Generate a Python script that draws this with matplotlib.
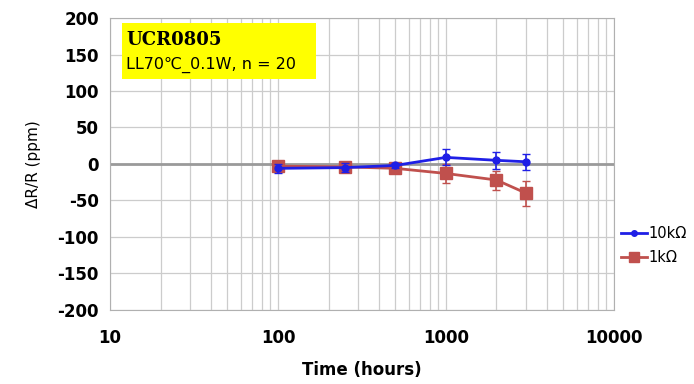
import matplotlib
matplotlib.use("Agg")
import matplotlib.pyplot as plt
from matplotlib.lines import Line2D
from matplotlib.patches import Rectangle
from matplotlib.ticker import LogLocator, FixedLocator, NullFormatter

plt.rcParams["axes.unicode_minus"] = False

# Load-life test: resistance drift over time
hours = [100, 250, 500, 1000, 2000, 3000]
drift_10k = [-6, -5, -2, 9, 5, 3]
err_10k = [6, 6, 4, 11, 12, 11]
drift_1k = [-3, -4, -6, -13, -22, -40]
err_1k = [4, 4, 5, 13, 13, 17]
labels = ["10k\u03a9", "1k\u03a9"]
y_ticks = list(range(-200, 201, 50))
x_ticks = [10, 100, 1000, 10000]

blue = "#1f1fe6"
red = "#c0504d"

fig = plt.figure(figsize=(6.94, 3.84), dpi=100)
ax = fig.add_axes([0.1585, 0.193, 0.726, 0.76])

ax.set_xscale("log")
ax.set_xlim(10, 10000)
ax.set_ylim(-200, 200)
ax.xaxis.set_minor_locator(LogLocator(base=10, subs=range(2, 10)))
ax.xaxis.set_minor_formatter(NullFormatter())
ax.set_xticks(x_ticks)
ax.set_xticklabels([str(v) for v in x_ticks])
ax.yaxis.set_major_locator(FixedLocator(y_ticks))

ax.grid(True, which="both", axis="x", color="#cccccc", lw=0.9)
ax.grid(True, which="major", axis="y", color="#cccccc", lw=0.9)
ax.axhline(0, color="#9a9a9a", lw=2, zorder=1)
ax.set_axisbelow(True)
for s in ax.spines.values():
    s.set_color("#b0b0b0")
ax.tick_params(which="both", length=0, labelsize=12)
ax.tick_params(axis="y", pad=8)
ax.tick_params(axis="x", pad=14)
for t in ax.get_xticklabels() + ax.get_yticklabels():
    t.set_fontweight("bold")

ax.errorbar(hours, drift_10k, yerr=err_10k, color=blue, marker="o", ms=5,
            lw=2, capsize=3, elinewidth=1.2, zorder=3)
ax.errorbar(hours, drift_1k, yerr=err_1k, color=red, marker="s", ms=8,
            lw=2, capsize=3, elinewidth=1.2, zorder=2)

ax.set_xlabel("Time (hours)", fontsize=12, fontweight="bold", labelpad=10)
ax.set_ylabel("\u0394R/R (ppm)", fontsize=11, labelpad=12)

handles = [Line2D([], [], color=blue, marker="o", ms=4, lw=2),
           Line2D([], [], color=red, marker="s", ms=7, lw=2)]
ax.legend(handles, labels, loc="center left", bbox_to_anchor=(1.0, 0.22),
          frameon=False, fontsize=10.5, handlelength=1.8, borderaxespad=0.1,
          labelspacing=0.6, handletextpad=0.1)

# yellow caption box
ax.add_patch(Rectangle((0.024, 0.791), 0.385, 0.192, transform=ax.transAxes,
                       fc="#ffff00", ec="none", zorder=4))
ax.text(0.032, 0.925, "UCR0805", transform=ax.transAxes, va="center",
        ha="left", fontsize=13, family="DejaVu Serif", fontweight="bold",
        zorder=5)
ax.text(0.032, 0.84, "LL70\u2103_0.1W, n = 20", transform=ax.transAxes,
        va="center", ha="left", fontsize=11.5, zorder=5)

fig.savefig("out.png", dpi=100)
